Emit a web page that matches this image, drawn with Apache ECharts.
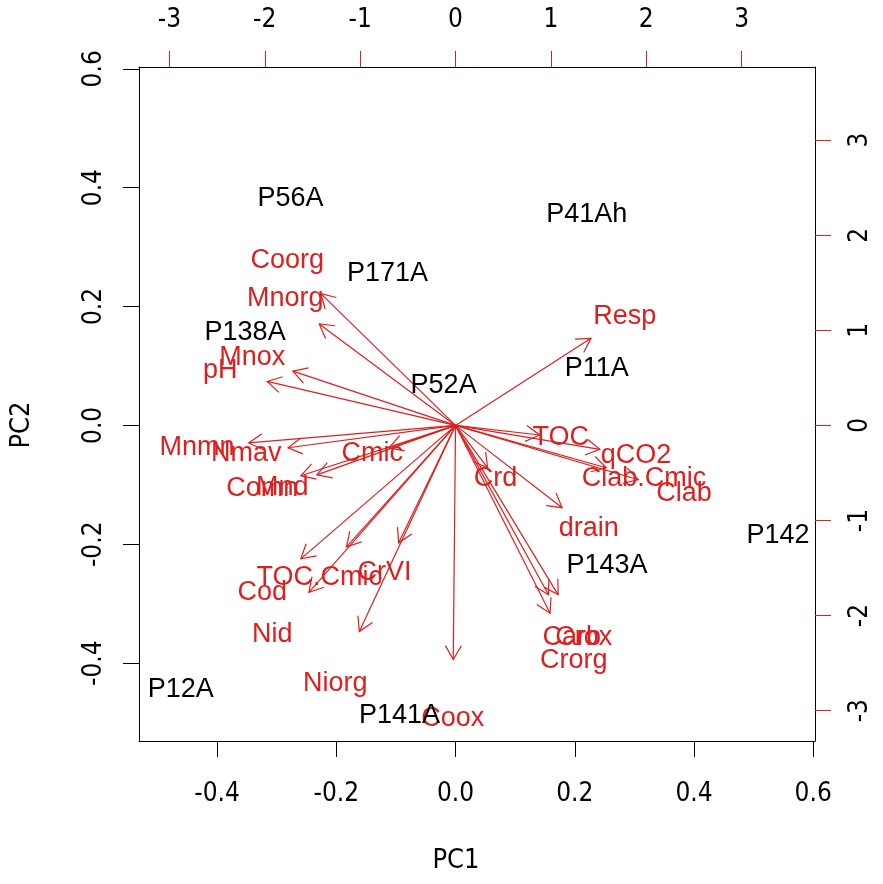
<!DOCTYPE html>
<html><head><meta charset="utf-8">
<script src="https://cdn.jsdelivr.net/npm/echarts@6/dist/echarts.min.js"></script>
<style>html,body{margin:0;padding:0;background:#fff}#c{width:883px;height:884px}</style>
</head><body><div id="c"></div>
<script>
// Observation scores (bottom/left axes)
const obsNames = ['P56A','P41Ah','P171A','P138A','P52A','P11A','P142','P143A','P12A','P141A'];
const obsPC1 = [-0.277, 0.220, -0.114, -0.353, -0.020, 0.237, 0.541, 0.254, -0.461, -0.094];
const obsPC2 = [0.382, 0.355, 0.255, 0.157, 0.067, 0.095, -0.186, -0.235, -0.444, -0.489];
// Variable loadings (top/right axes)
const varNames = ['Coorg','Mnorg','Mnox','pH','Mnmn','Nmav','Comn','Mnd','Cmic','TOC.Cmic','Cod','Nid','CrVI','Niorg','Coox','Resp','TOC','qCO2','Clab.Cmic','Clab','Crd','drain','Carb','Crox','Crorg'];
const varPC1 = [-1.765,-1.786,-2.132,-2.468,-2.710,-2.195,-2.027,-1.817,-0.872,-1.429,-2.027,-1.922,-0.746,-1.261,-0.03,1.775,1.103,1.891,1.975,2.395,0.420,1.397,1.218,1.345,1.239];
const varPC2 = [1.733,1.334,0.714,0.578,-0.231,-0.294,-0.662,-0.651,-0.294,-1.597,-1.754,-2.195,-1.544,-2.710,-3.078,1.145,-0.126,-0.315,-0.557,-0.714,-0.557,-1.082,-2.227,-2.227,-2.468];
const primaryTicks = [-0.4,-0.2,0,0.2,0.4,0.6];
const secondaryTicks = [-3,-2,-1,0,1,2,3];

const RED = '#dc2020';
const AXFONT = '"DejaVu Sans Condensed","Liberation Sans",Arial,sans-serif';
const TXTFONT = '"Liberation Sans",Arial,sans-serif';
const pMin = -0.531, pMax = 0.603, ratio = 6.25;

function axisCommon(ticks, tickColor, fmt, margin, rotate){
  return {
    type:'value',
    axisLine:{show:true, onZero:false, lineStyle:{color:'#000', width:1}},
    axisTick:{show:true, customValues:ticks, length:16, lineStyle:{color:tickColor, width:1}},
    axisLabel:{show:true, customValues:ticks, color:'#000', fontSize:26, fontFamily:AXFONT, margin:margin, rotate:rotate, formatter:fmt},
    splitLine:{show:false}
  };
}
const fmtP = v => (Math.round(v*10)/10).toFixed(1);
const fmtS = v => String(Math.round(v));

const nameStyle = {fontSize:27, fontFamily:AXFONT, color:'#000', padding:[0,42,0,0]};
const xB = Object.assign(axisCommon(primaryTicks,'#000',fmtP,40,0),{position:'bottom',min:pMin,max:pMax,
  name:'PC1',nameLocation:'middle',nameGap:106,nameTextStyle:nameStyle});
const xT = Object.assign(axisCommon(secondaryTicks,RED,fmtS,34,0),{position:'top',min:pMin*ratio,max:pMax*ratio});
const yL = Object.assign(axisCommon(primaryTicks,'#000',fmtP,32,90),{position:'left',min:pMin,max:pMax,
  name:'PC2',nameLocation:'middle',nameGap:104,nameRotate:90,nameTextStyle:nameStyle});
const yR = Object.assign(axisCommon(secondaryTicks,RED,fmtS,32,90),{position:'right',min:pMin*ratio,max:pMax*ratio});

const obsData = obsNames.map((n,i)=>({name:n, value:[obsPC1[i], obsPC2[i]]}));
const varData = varNames.map((n,i)=>({name:n, value:[varPC1[i], varPC2[i]]}));

const chart = echarts.init(document.getElementById('c'), null, {renderer:'canvas'});
chart.setOption({
  animation:false,
  backgroundColor:'#fff',
  grid:{left:138, right:68, top:67, bottom:143, containLabel:false},
  xAxis:[xB, xT],
  yAxis:[yL, yR],
  series:[
    { type:'custom', xAxisIndex:1, yAxisIndex:1, data:varData, z:2,
      renderItem:function(params, api){
        const o = api.coord([0,0]);
        const t = api.coord([api.value(0)*0.8, api.value(1)*0.8]);
        const ang = Math.atan2(t[1]-o[1], t[0]-o[0]);
        const L = 16, a = Math.PI/6;
        const h1 = [t[0]-L*Math.cos(ang-a), t[1]-L*Math.sin(ang-a)];
        const h2 = [t[0]-L*Math.cos(ang+a), t[1]-L*Math.sin(ang+a)];
        return {type:'group', children:[
          {type:'line', shape:{x1:o[0],y1:o[1],x2:t[0],y2:t[1]}, style:{stroke:RED, lineWidth:1.2}},
          {type:'polyline', shape:{points:[h1,t,h2]}, style:{stroke:RED, fill:null, lineWidth:1.2}}
        ]};
      }
    },
    { type:'custom', xAxisIndex:1, yAxisIndex:1, data:varData, z:3,
      renderItem:function(params, api){
        const p = api.coord([api.value(0), api.value(1)]);
        return {type:'text', x:p[0], y:p[1], style:{text:varNames[params.dataIndex], fill:RED,
          font:'27px '+TXTFONT, align:'center', verticalAlign:'middle'}};
      }
    },
    { type:'custom', xAxisIndex:0, yAxisIndex:0, data:obsData, z:4,
      renderItem:function(params, api){
        const p = api.coord([api.value(0), api.value(1)]);
        return {type:'text', x:p[0], y:p[1], style:{text:obsNames[params.dataIndex], fill:'#000',
          font:'27px '+TXTFONT, align:'center', verticalAlign:'middle'}};
      }
    }
  ]
});
</script></body></html>
